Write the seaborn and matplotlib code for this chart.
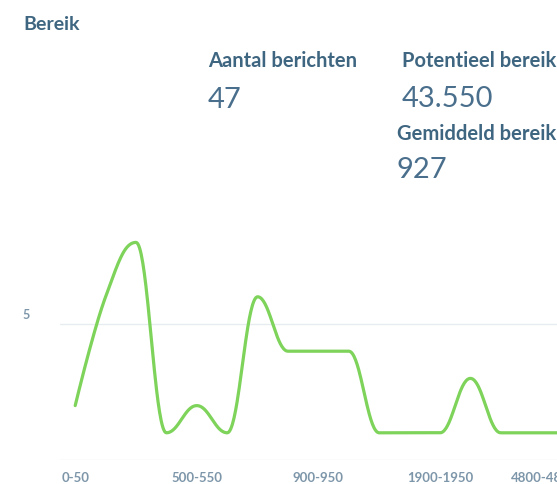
import numpy as np
import pandas as pd
import seaborn as sns
import matplotlib.pyplot as plt
from matplotlib.transforms import ScaledTranslation

# data (message count per reach bucket)
categories = ['0-50', '50-100', '100-150', '200-250', '500-550', '550-600', '600-650',
              '700-750', '900-950', '1000-1050', '1200-1250', '1500-1550', '1900-1950',
              '2100-2150', '2500-2550', '3200-3250', '4800-4850']
counts = [2, 6, 8, 1, 2, 1, 6, 4, 4, 4, 1, 1, 1, 3, 1, 1, 1]
label_every = 4

stat_labels = ['Aantal berichten', 'Potentieel bereik', 'Gemiddeld bereik']
stat_values = ['47', '43.550', '927']

TEXT = '#3f6681'
NUM = '#4a6f8c'
TICK = '#7d96a9'
GRID = '#e6ecef'
GREEN = '#7ed35a'


def spline(xs, ys, smoothing=1.5, steps=40):
    # Highcharts-style spline: bezier control points per point
    n = len(xs)
    lcx, lcy = list(xs), list(ys)
    rcx, rcy = list(xs), list(ys)
    d = smoothing + 1
    for i in range(1, n - 1):
        px, py = xs[i], ys[i]
        lx = (smoothing * px + xs[i - 1]) / d
        ly = (smoothing * py + ys[i - 1]) / d
        rx = (smoothing * px + xs[i + 1]) / d
        ry = (smoothing * py + ys[i + 1]) / d
        if rx != lx:
            c = (ry - ly) * (rx - px) / (rx - lx) + py - ry
            ly += c
            ry += c
        if ly > ys[i - 1] and ly > py:
            ly = max(ys[i - 1], py); ry = 2 * py - ly
        elif ly < ys[i - 1] and ly < py:
            ly = min(ys[i - 1], py); ry = 2 * py - ly
        if ry > ys[i + 1] and ry > py:
            ry = max(ys[i + 1], py); ly = 2 * py - ry
        elif ry < ys[i + 1] and ry < py:
            ry = min(ys[i + 1], py); ly = 2 * py - ry
        lcx[i], lcy[i], rcx[i], rcy[i] = lx, ly, rx, ry
    out_x, out_y = [xs[0]], [ys[0]]
    t = np.linspace(0, 1, steps)[1:]
    for i in range(1, n):
        p0 = np.array([xs[i - 1], ys[i - 1]])
        p1 = np.array([rcx[i - 1], rcy[i - 1]])
        p2 = np.array([lcx[i], lcy[i]])
        p3 = np.array([xs[i], ys[i]])
        pts = ((1 - t) ** 3)[:, None] * p0 + (3 * (1 - t) ** 2 * t)[:, None] * p1 \
            + (3 * (1 - t) * t ** 2)[:, None] * p2 + (t ** 3)[:, None] * p3
        out_x.extend(pts[:, 0])
        out_y.extend(pts[:, 1])
    return out_x, out_y


sns.set_theme(style='white')
plt.rcParams['font.family'] = ['Lato', 'DejaVu Sans']

W, H = 557, 485
fig = plt.figure(figsize=(W / 100, H / 100), dpi=100)

# plot area: x from 60px, one category = 30.4px, zero line at 461px, 27.2px per unit
step = 30.4
left = 60
right = left + step * len(categories)
ax = fig.add_axes([left / W, (H - 461) / H, (right - left) / W, 9 * 27.2 / H])

xs = list(range(len(categories)))
cx, cy = spline(xs, counts)
curve = pd.DataFrame({'x': cx, 'y': cy})
sns.lineplot(data=curve, x='x', y='y', ax=ax, color=GREEN, linewidth=2.3,
             estimator=None, sort=False)

ax.set_xlim(-0.5, len(categories) - 0.5)
ax.set_ylim(0, 9)
ax.set_xlabel('')
ax.set_ylabel('')

ax.set_yticks([0, 5])
ax.set_yticklabels(['', '5'])
ax.grid(axis='y', color=GRID, linewidth=1)
ax.grid(axis='x', visible=False)
sns.despine(ax=ax, left=True, right=True, top=True, bottom=True)

tick_pos = xs[::label_every]
ax.set_xticks(tick_pos)
ax.set_xticklabels([categories[i] for i in tick_pos])
ax.tick_params(axis='x', length=0, pad=8, labelsize=9.5, labelcolor=TICK)
ax.tick_params(axis='y', length=0, pad=22, labelsize=9, labelcolor=TICK)
for lab in ax.get_xticklabels() + ax.get_yticklabels():
    lab.set_fontweight('bold')
for lab in ax.get_yticklabels():
    lab.set_transform(lab.get_transform() + ScaledTranslation(0, 11 / 100, fig.dpi_scale_trans))
# last label is pushed inside the chart edge
last = ax.get_xticklabels()[-1]
last.set_transform(last.get_transform() + ScaledTranslation(-17 / 100, 0, fig.dpi_scale_trans))

# header texts
fig.text(23 / W, 1 - 30 / H, 'Bereik', fontsize=14, fontweight='bold', color=TEXT)

label_pos = [(208, 67), (402, 67), (397, 140)]
value_pos = [(208, 108), (402, 107), (397, 178)]
for (x, y), t in zip(label_pos, stat_labels):
    fig.text(x / W, 1 - y / H, t, fontsize=14.5, fontweight='bold', color=TEXT)
for (x, y), t in zip(value_pos, stat_values):
    fig.text(x / W, 1 - y / H, t, fontsize=21, fontweight='normal', color=NUM)

fig.savefig('out.png', dpi=100)
